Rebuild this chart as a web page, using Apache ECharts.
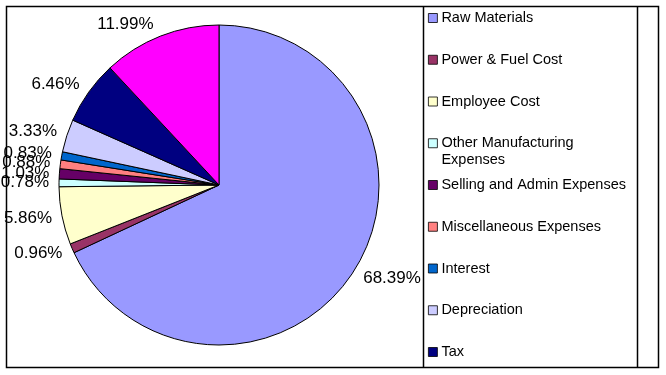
<!DOCTYPE html>
<html>
<head>
<meta charset="utf-8">
<script src="https://cdn.jsdelivr.net/npm/echarts@6/dist/echarts.min.js"></script>
<style>html,body{margin:0;padding:0;background:#fff}#c{width:666px;height:375px}</style>
</head>
<body>
<div id="c"></div>
<script>
var categories = ['Raw Materials','Power & Fuel Cost','Employee Cost','Other Manufacturing Expenses','Selling and Admin Expenses','Miscellaneous Expenses','Interest','Depreciation','Tax','Profit'];
var values = [68.39, 0.96, 5.86, 0.78, 1.03, 0.88, 0.83, 3.33, 6.46, 11.99];
var colors = ['#9999FF','#993366','#FFFFCC','#CCFFFF','#660066','#FF8080','#0066CC','#CCCCFF','#000080','#FF00FF'];
var legendNames = categories.slice(0, 9);

var FONT = 'Liberation Sans, Arial, sans-serif';
var CX = 219, CY = 185, R = 160, LBL = 5;
var chart = echarts.init(document.getElementById('c'));

var legends = legendNames.map(function (n, i) {
  var multi = n === 'Other Manufacturing Expenses';
  return {
    data: [n],
    orient: 'vertical',
    left: 428,
    top: 9.5 + i * 41.75 - (multi ? 17 : 0),
    itemWidth: 9,
    itemHeight: 9,
    icon: 'rect',
    selectedMode: false,
    padding: 0,
    itemStyle: { borderColor: '#000', borderWidth: 0.8 },
    formatter: multi ? function () { return '\nOther Manufacturing\nExpenses'; } : undefined,
    textStyle: { fontFamily: FONT, fontSize: 14.5, color: '#000', lineHeight: 17, padding: [0, 0, 0, -1] }
  };
});

chart.setOption({
  animation: false,
  color: colors,
  legend: legends,
  graphic: [
    { type: 'rect', shape: { x: 6.5, y: 6.5, width: 652, height: 361 }, style: { fill: 'none', stroke: '#000', lineWidth: 1.5 } },
    { type: 'line', shape: { x1: 423.5, y1: 6.5, x2: 423.5, y2: 367.5 }, style: { stroke: '#000', lineWidth: 1.5 } },
    { type: 'line', shape: { x1: 637.5, y1: 6.5, x2: 637.5, y2: 367.5 }, style: { stroke: '#000', lineWidth: 1.5 } }
  ],
  series: [{
    type: 'pie',
    center: [CX, CY],
    radius: R,
    startAngle: 90,
    clockwise: true,
    avoidLabelOverlap: false,
    data: categories.map(function (n, i) { return { name: n, value: values[i] }; }),
    itemStyle: { borderColor: '#000', borderWidth: 1 },
    label: {
      show: true,
      position: 'outside',
      formatter: function (p) { return p.value.toFixed(2) + '%'; },
      fontFamily: FONT,
      fontSize: 17,
      color: '#000'
    },
    labelLine: { show: false, length: LBL, length2: 0 },
    labelLayout: function (p) {
      var r = p.labelRect;
      var ratio = (r.y + r.height / 2 - CY) / (R + LBL + 8);
      return { dy: ratio * r.height / 2 };
    },
    emphasis: { disabled: true }
  }]
});
</script>
</body>
</html>
